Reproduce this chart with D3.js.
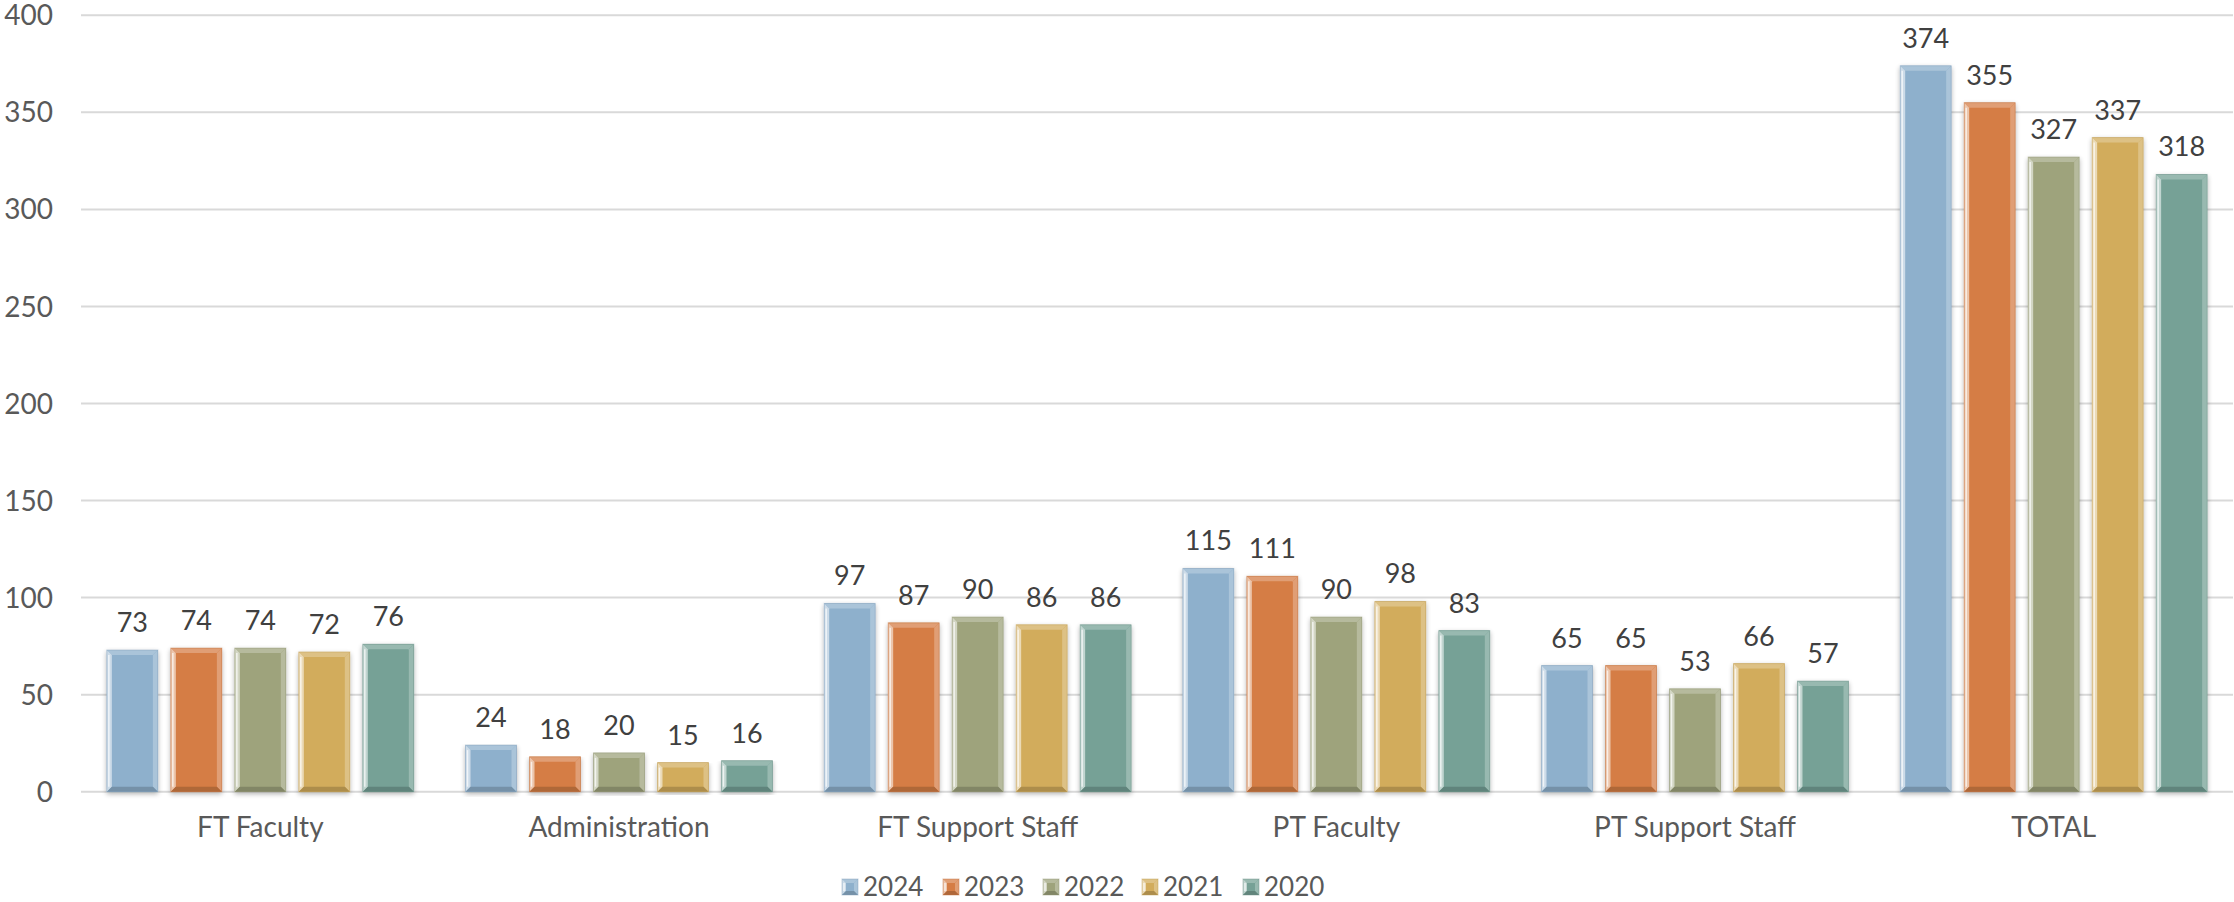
<!DOCTYPE html>
<html>
<head>
<meta charset="utf-8">
<script src="https://cdn.jsdelivr.net/npm/d3@7"></script>
<style>
  body { margin: 0; background: #fff; }
  text { font-family: "Century Gothic", "URW Gothic", "Lato", sans-serif; }
</style>
</head>
<body>
<div id="chart"></div>
<script>
var categories = ['FT Faculty', 'Administration', 'FT Support Staff', 'PT Faculty', 'PT Support Staff', 'TOTAL'];
var years = ['2024', '2023', '2022', '2021', '2020'];
var values2024 = [73, 24, 97, 115, 65, 374];
var values2023 = [74, 18, 87, 111, 65, 355];
var values2022 = [74, 20, 90, 90, 53, 327];
var values2021 = [72, 15, 86, 98, 66, 337];
var values2020 = [76, 16, 86, 83, 57, 318];
var yTicks = [0, 50, 100, 150, 200, 250, 300, 350, 400];

var series = [values2024, values2023, values2022, values2021, values2020];
var colors = ['#8eb0cc', '#d57d45', '#9ea37c', '#d2ac5c', '#76a196'];

var width = 2234;
var height = 902;

var svg = d3.select('#chart')
    .append('svg')
    .attr('width', width)
    .attr('height', height);

var defs = svg.append('defs');
var shadow = defs.append('filter')
    .attr('id', 'shadow')
    .attr('x', '-20%').attr('y', '-5%')
    .attr('width', '140%').attr('height', '115%');
shadow.append('feGaussianBlur').attr('in', 'SourceAlpha').attr('stdDeviation', 2.5);
shadow.append('feOffset').attr('dx', 0).attr('dy', 2).attr('result', 'blur');
shadow.append('feComponentTransfer').append('feFuncA').attr('type', 'linear').attr('slope', 0.3);
var merge = shadow.append('feMerge');
merge.append('feMergeNode');
merge.append('feMergeNode').attr('in', 'SourceGraphic');

var x0 = d3.scaleBand()
    .domain(categories)
    .range([81, 2233]);

var x1 = d3.scaleBand()
    .domain(years)
    .range([0, x0.bandwidth()])
    .paddingInner(0.203)
    .paddingOuter(0.404);

var y = d3.scaleLinear()
    .domain([0, 400])
    .range([791.7, 15.3]);

// gridlines
svg.append('g')
    .selectAll('line')
    .data(yTicks)
    .enter()
    .append('line')
    .attr('x1', 81)
    .attr('x2', 2233)
    .attr('y1', function (d) { return y(d); })
    .attr('y2', function (d) { return y(d); })
    .attr('stroke', '#d9d9d9')
    .attr('stroke-width', 2);

// y labels
svg.append('g')
    .selectAll('text')
    .data(yTicks)
    .enter()
    .append('text')
    .attr('x', 53)
    .attr('y', function (d) { return y(d); })
    .attr('dy', '0.36em')
    .attr('text-anchor', 'end')
    .attr('fill', '#595959')
    .style('font-size', '28px')
    .text(function (d) { return d; });

// bevelled box
function bevel(g, x, yTop, w, h, color, b) {
    var base = d3.color(color);
    var light = d3.interpolateRgb(color, '#ffffff')(0.55);
    var mid = d3.interpolateRgb(color, '#ffffff')(0.25);
    var dark = base.darker(0.55);
    var bb = Math.min(b, h / 2, w / 2);
    g.append('rect')
        .attr('x', x).attr('y', yTop)
        .attr('width', w).attr('height', h)
        .attr('fill', color);
    // top
    g.append('path')
        .attr('d', 'M' + x + ',' + yTop + 'L' + (x + w) + ',' + yTop + 'L' + (x + w - bb) + ',' + (yTop + bb) + 'L' + (x + bb) + ',' + (yTop + bb) + 'Z')
        .attr('fill', mid);
    // left
    g.append('path')
        .attr('d', 'M' + x + ',' + yTop + 'L' + (x + bb) + ',' + (yTop + bb) + 'L' + (x + bb) + ',' + (yTop + h - bb) + 'L' + x + ',' + (yTop + h) + 'Z')
        .attr('fill', light);
    // right
    g.append('path')
        .attr('d', 'M' + (x + w) + ',' + yTop + 'L' + (x + w - bb) + ',' + (yTop + bb) + 'L' + (x + w - bb) + ',' + (yTop + h - bb) + 'L' + (x + w) + ',' + (yTop + h) + 'Z')
        .attr('fill', mid);
    // bottom
    g.append('path')
        .attr('d', 'M' + x + ',' + (yTop + h) + 'L' + (x + bb) + ',' + (yTop + h - bb) + 'L' + (x + w - bb) + ',' + (yTop + h - bb) + 'L' + (x + w) + ',' + (yTop + h) + 'Z')
        .attr('fill', dark);
    // thin left white highlight
    g.append('line')
        .attr('x1', x + 2).attr('x2', x + 2)
        .attr('y1', yTop + bb).attr('y2', yTop + h - bb)
        .attr('stroke', '#ffffff').attr('stroke-opacity', 0.7).attr('stroke-width', 1.5);
    g.append('rect')
        .attr('x', x).attr('y', yTop)
        .attr('width', w).attr('height', h)
        .attr('fill', 'none')
        .attr('stroke', base.darker(0.3))
        .attr('stroke-opacity', 0.45)
        .attr('stroke-width', 1);
}

var groups = svg.append('g')
    .selectAll('g')
    .data(categories)
    .enter()
    .append('g')
    .attr('transform', function (d) { return 'translate(' + x0(d) + ',0)'; });

groups.each(function (cat, ci) {
    var g = d3.select(this);
    years.forEach(function (yr, si) {
        var v = series[si][ci];
        var bx = x1(yr);
        var bg = g.append('g').attr('filter', 'url(#shadow)');
        bevel(bg, bx, y(v), x1.bandwidth(), y(0) - y(v), colors[si], 5);
        g.append('text')
            .attr('x', bx + x1.bandwidth() / 2)
            .attr('y', y(v) - 18)
            .attr('text-anchor', 'middle')
            .attr('fill', '#404040')
            .style('font-size', '27px')
            .text(v);
    });
});

// x labels
svg.append('g')
    .selectAll('text')
    .data(categories)
    .enter()
    .append('text')
    .attr('x', function (d) { return x0(d) + x0.bandwidth() / 2; })
    .attr('y', 837)
    .attr('text-anchor', 'middle')
    .attr('fill', '#595959')
    .style('font-size', '28px')
    .text(function (d) { return d; });

// legend
var legendX = [842, 943, 1043, 1142, 1243];
var legend = svg.append('g')
    .selectAll('g')
    .data(years)
    .enter()
    .append('g')
    .attr('transform', function (d, i) { return 'translate(' + legendX[i] + ',879)'; });

legend.each(function (d, i) {
    bevel(d3.select(this), 0, 0, 16, 16, colors[i], 4);
});

legend.append('text')
    .attr('x', 21)
    .attr('y', 8)
    .attr('dy', '0.36em')
    .attr('fill', '#595959')
    .style('font-size', '26px')
    .text(function (d) { return d; });
</script>
</body>
</html>
